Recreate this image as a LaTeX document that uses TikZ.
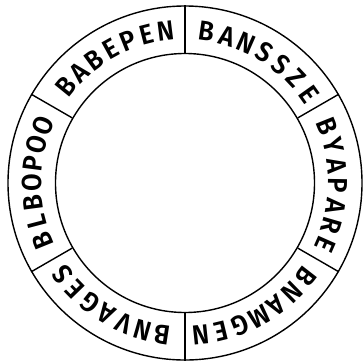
\documentclass[tikz,border=0pt]{standalone}
\usepackage{fontspec}
\newfontfamily\ringfont{Fira Sans SemiBold}[FakeStretch=0.93]
\newcommand\ringword[4]{% name, centre angle, step, letters
  \foreach \l [count=\i] in {#4} {
    \pgfmathsetmacro\ang{#2+(4-\i)*#3}
    \node[letter, rotate=\ang-90] (#1-\i) at (\ang:153) {\l};
  }}
\begin{document}
\begin{tikzpicture}[x=1pt,y=1pt,
  ring/.style={line width=1.4pt},
  letter/.style={font=\ringfont\fontsize{27.5}{27.5}\selectfont, inner sep=0pt, anchor=center}]
\useasboundingbox (-185,-179) rectangle (178,183);
\node[circle, draw, line width=1.4pt, minimum size=354pt, inner sep=0pt] (outer) at (0,0) {};
\node[circle, draw, line width=1.4pt, minimum size=259pt, inner sep=0pt] (inner) at (0,0) {};
\foreach \a in {30,90,...,330}
  \draw[ring] (inner.\a) -- (outer.\a);
\ringword{w1}{119}{7.3}{B,A,B,E,P,E,N}
\ringword{w2}{58.6}{7.7}{B,A,N,S,S,Z,E}
\ringword{w3}{-1}{7.6}{B,Y,A,P,A,R,E}
\ringword{w4}{-61}{7.7}{B,N,A,M,G,E,N}
\ringword{w5}{239}{7.45}{B,N,V,A,G,E,S}
\ringword{w6}{180}{7.35}{B,L,B,O,P,O,O}
\end{tikzpicture}
\end{document}
